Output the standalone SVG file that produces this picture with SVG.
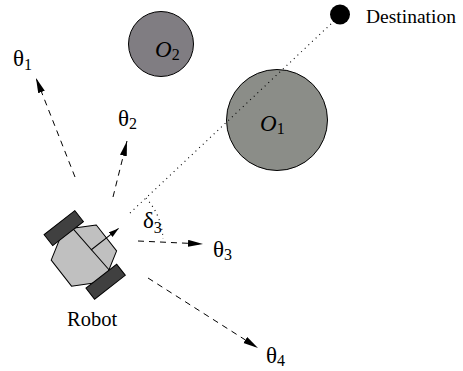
<svg xmlns="http://www.w3.org/2000/svg" width="463" height="371" viewBox="0 0 463 371">
  <style>
    .lbl { font-family: "Liberation Serif", "Times New Roman", serif; fill: #000; }
    .sym { font-size: 23px; }
    .sub { font-size: 16px; }
    .obst { stroke: #000; stroke-width: 1; }
    .dash { fill: none; stroke: #000; stroke-width: 1; stroke-dasharray: 6 5; marker-end: url(#ah); }
    .dot { fill: none; stroke: #000; stroke-width: 1.1; stroke-dasharray: 1 4; }
  </style>
  <defs>
    <marker id="ah" markerUnits="userSpaceOnUse" markerWidth="16" markerHeight="8" refX="15" refY="3.5" orient="auto">
      <path d="M0,0 L15,3.5 L0,7 z" fill="#000"/>
    </marker>
    <marker id="ahSmall" markerUnits="userSpaceOnUse" markerWidth="11" markerHeight="7" refX="10" refY="3" orient="auto">
      <path d="M0,0 L10,3 L0,6 z" fill="#000"/>
    </marker>
  </defs>

  <rect width="463" height="371" fill="#fff"/>

  <!-- obstacles -->
  <g id="obstacle-o2">
    <circle class="obst" cx="161" cy="44" r="32.5" fill="#807d82"/>
    <text class="lbl" x="155" y="57"><tspan font-size="23" font-style="italic">O</tspan><tspan class="sub" dy="3">2</tspan></text>
  </g>
  <g id="obstacle-o1">
    <circle class="obst" cx="277" cy="120" r="50.5" fill="#8b8d88"/>
    <text class="lbl" x="260" y="131"><tspan font-size="23" font-style="italic">O</tspan><tspan class="sub" dy="3">1</tspan></text>
  </g>

  <!-- goal -->
  <g id="destination">
    <circle cx="340" cy="14.5" r="10" fill="#000"/>
    <text class="lbl" x="366" y="23" font-size="19.5">Destination</text>
  </g>

  <!-- connectors -->
  <g id="connectors">
    <!-- line of sight to the goal -->
    <path class="dot" d="M130,213 L333,22"/>
    <!-- angle delta_3 between goal direction and theta_3 -->
    <path class="dot" d="M146,198 A65 65 0 0 1 163,239"/>
    <!-- candidate headings -->
    <path class="dash" d="M75,177 L36,78"/>
    <path class="dash" d="M113,197 L127,141"/>
    <path class="dash" d="M138,241 L203,244"/>
    <path class="dash" d="M148,278 L258,348"/>
  </g>

  <!-- robot: hexagonal body with two wheels and heading arrow -->
  <g id="robot">
    <g transform="translate(91,250) rotate(-38)">
      <polygon points="19.6,-16.5 -9,-33 -37.6,-16.5 -37.6,16.5 -9,33 19.6,16.5" fill="#c0c0c0" stroke="#000" stroke-width="1"/>
      <line x1="-1" y1="-27" x2="2" y2="27" stroke="#000" stroke-width="1"/>
      <rect x="-27.5" y="-41" width="39" height="14" fill="#404040" stroke="#000" stroke-width="1"/>
      <rect x="-27.5" y="27" width="39" height="14" fill="#404040" stroke="#000" stroke-width="1"/>
      <line x1="0" y1="0" x2="35" y2="0" stroke="#000" stroke-width="1" marker-end="url(#ahSmall)"/>
    </g>
    <text class="lbl" x="67" y="326" font-size="20.5">Robot</text>
  </g>

  <!-- angle labels -->
  <g id="labels">
    <text class="lbl" x="13" y="66"><tspan class="sym">θ</tspan><tspan class="sub" dy="4">1</tspan></text>
    <text class="lbl" x="118" y="126"><tspan class="sym">θ</tspan><tspan class="sub" dy="3">2</tspan></text>
    <text class="lbl" x="213" y="257"><tspan class="sym">θ</tspan><tspan class="sub" dy="3">3</tspan></text>
    <text class="lbl" x="266" y="363"><tspan class="sym">θ</tspan><tspan class="sub" dy="3">4</tspan></text>
    <text class="lbl" x="143" y="228"><tspan class="sym">δ</tspan><tspan class="sub" dy="5">3</tspan></text>
  </g>
</svg>
